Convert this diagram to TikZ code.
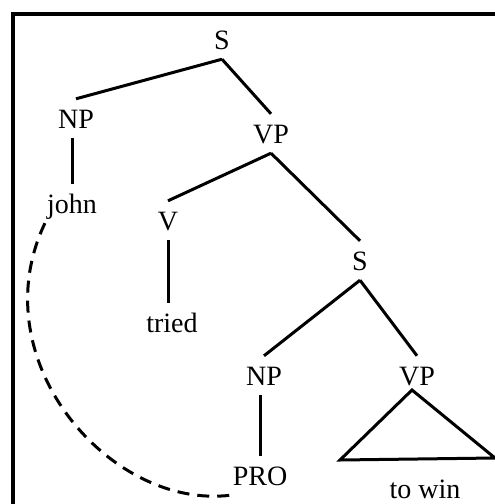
\documentclass[tikz,border=0pt]{standalone}
\usepackage{fontspec}
\setmainfont{Liberation Serif}
\usepackage{tikz}

\begin{document}
\begin{tikzpicture}
[x=1pt, y=1pt, font=\fontsize{28}{32}\selectfont,
    every node/.style={anchor=base, inner xsep=2pt, inner ysep=7pt,
    text height=22pt, text depth=3pt},
    branch/.style={draw=black, line width=3pt},
    trace/.style={draw=black, line width=3pt, dash pattern=on 12pt off 8pt}
    ]
    \useasboundingbox (0,0) rectangle (495,-504);
    \draw[line width=3.5pt] (13,-504) -- (13,-14) -- (495,-14);

    % upper tree
    \node (s)     at (222,-49)  {S};
    \node (np)    at (76,-128)  {NP};
    \node (vp)    at (271,-143) {VP};
    \node (john)  at (72,-213)  {john};
    \node (v)     at (168,-230) {V};
    \node (tried) at (172,-332) {tried};

    % embedded clause
    \node (s2)    at (360,-270) {S};
    \node (np2)   at (264,-385) {NP};
    \node (vp2)   at (417,-385) {VP};
    \node (pro)   at (260,-485) {PRO};
    \node (towin) at (425,-498) {to win};
    \coordinate (tl) at (340,-460);
    \coordinate (tr) at (495,-458);

    \draw[branch] (s.south) -- (np.north);
    \draw[branch] (s.south) -- (vp.north);
    \draw[branch] (john.north |- np.south) -- (john.north);
    \draw[branch] (vp.south) -- (v.north);
    \draw[branch] (vp.south) -- (s2.north);
    \draw[branch] (v.south) -- (v.south |- tried.north);
    \draw[branch] (s2.south) -- (np2.north);
    \draw[branch] (s2.south) -- (vp2.north);
    \draw[branch] (np2.south -| pro.north) -- (pro.north);
    \draw[branch] ([shift={(-5,-5)}]vp2.base) -- (tl) -- (tr) -- cycle;

    % control link
    \draw[trace] (john.south west) .. controls (-20,-360) and (110,-510) .. (pro.south west);
\end{tikzpicture}
\end{document}
